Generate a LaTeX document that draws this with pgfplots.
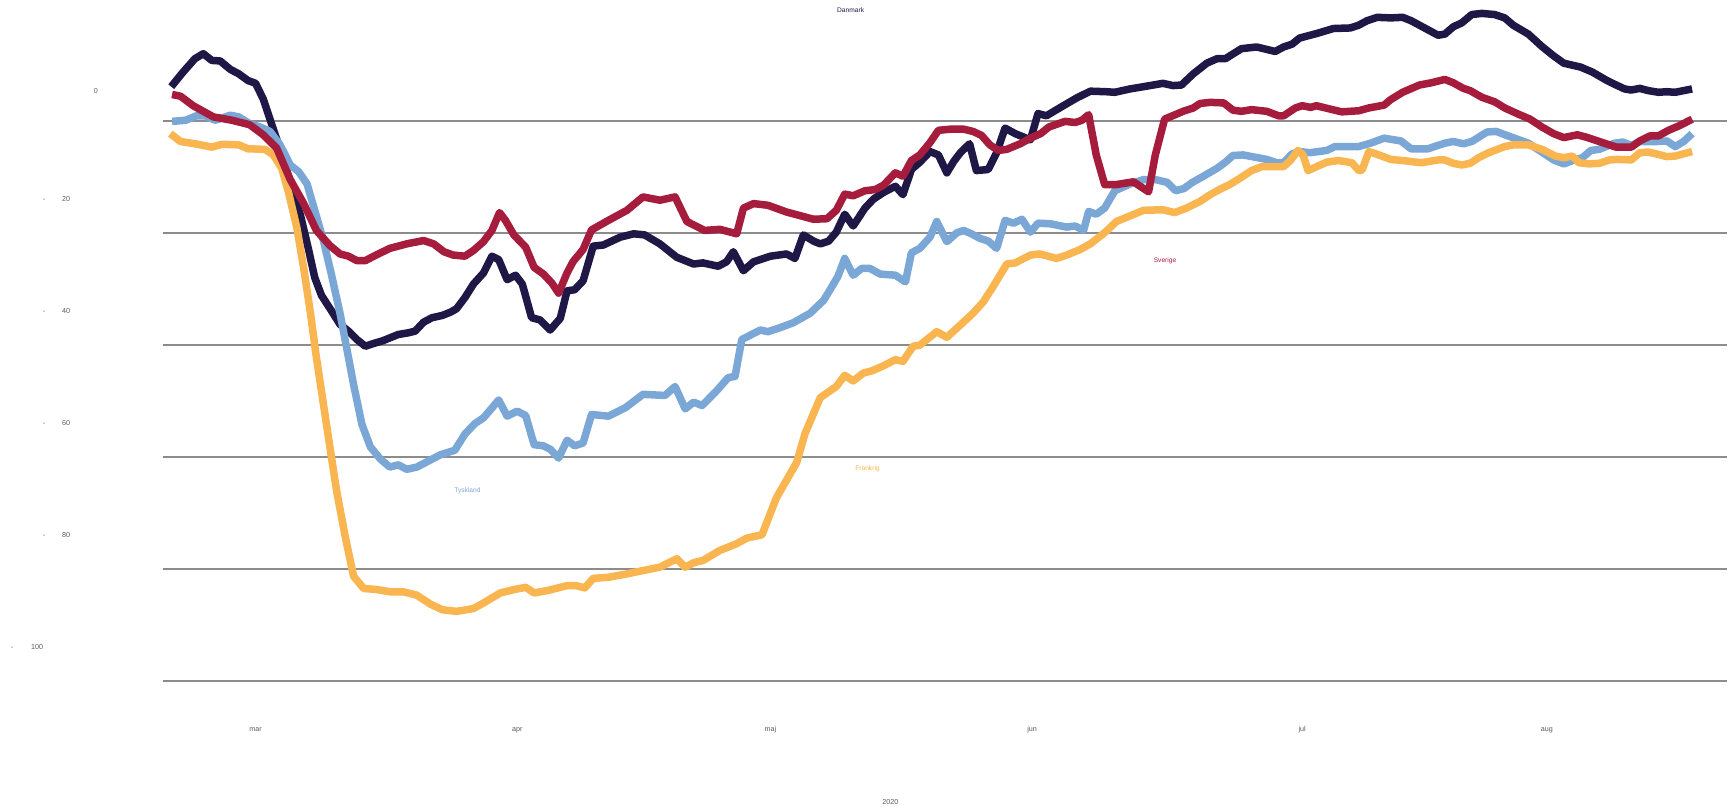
\documentclass[border=0pt]{standalone}
\usepackage{pgfplots}
\pgfplotsset{compat=1.18}
\usepackage{fontspec}
\setmainfont{Liberation Sans}
\definecolor{dk}{RGB}{31,24,70}
\definecolor{se}{RGB}{166,28,60}
\definecolor{de}{RGB}{123,167,215}
\definecolor{fr}{RGB}{249,181,80}
\definecolor{gridgray}{RGB}{140,140,140}
\definecolor{labgray}{RGB}{90,90,90}
\begin{document}
\begin{tikzpicture}
\useasboundingbox (-148pt,-118pt) rectangle (1420pt,617pt);
\begin{axis}[
    at={(0pt,0pt)}, anchor=south west,
    scale only axis, width=1417pt, height=617pt,
    xmin=-10.94, xmax=174.3, ymin=-100, ymax=21.7,
    clip=false,
    axis line style={draw=none},
    major tick length=0pt,
    xtick={0,31,61,92,124,153},
    xticklabels={mar,apr,maj,jun,jul,aug},
    xticklabel style={anchor=center, inner sep=0pt, yshift=-44.6pt,
        font=\fontsize{6.5}{7}\selectfont, text=labgray},
    ytick={-100,-80,...,0},
    yticklabels={
        {-\hspace{15.8pt}100},
        {\hspace{29pt}-\hspace{15pt}80},
        {\hspace{29pt}-\hspace{15pt}60},
        {\hspace{29pt}-\hspace{15pt}40},
        {\hspace{29pt}-\hspace{15pt}20},
        {\hspace{74.9pt}\raisebox{-3pt}{0}}},
    yticklabel style={anchor=base west, inner sep=0pt, xshift=-138pt, yshift=28.7pt,
        font=\fontsize{6.5}{7}\selectfont, text=labgray},
    ymajorgrids,
    grid style={gridgray, line width=1.6pt},
    every axis plot/.append style={line width=6.8pt, line join=round},
]
% Danmark
\addplot[dk] coordinates {(-10,6.2) (-8.6,8.8) (-7.2,11.2) (-6.2,12.1) (-5.2,10.9) (-4.2,10.8) (-3,9.3) (-2,8.5) (-0.9,7.3) (0,6.8) (0.9,4.0) (1.7,0.4) (2.5,-3.2) (3.3,-6.8) (4.3,-12) (5.3,-16.7) (6.3,-23.1) (7,-27.9) (7.8,-31.1) (9,-33.9) (10,-36.3) (11,-37.5) (12,-39) (13,-40.2) (14,-39.7) (15.1,-39.2) (16.9,-38.1) (18.1,-37.8) (18.9,-37.5) (19.9,-35.9) (20.9,-35.1) (22.1,-34.7) (23.1,-34.1) (23.8,-33.5) (24.8,-31.5) (25.8,-29.1) (27,-27.1) (28,-24.1) (28.8,-24.7) (29.8,-28.3) (30.8,-27.5) (31.6,-29.1) (32.7,-35.1) (33.7,-35.5) (34.9,-37.3) (36.1,-35.2) (36.9,-30.3) (37.8,-30.1) (38.8,-28.5) (40,-22.3) (41.2,-22.1) (43.2,-20.7) (44.8,-20.1) (46.1,-20.3) (47.9,-21.9) (49.9,-24.3) (51.9,-25.5) (53,-25.3) (54.8,-25.9) (55.8,-25.1) (56.6,-23.3) (57.8,-26.7) (59,-25.1) (61,-24.1) (62.9,-23.7) (63.9,-24.5) (64.9,-20.3) (66.1,-21.4) (66.9,-21.9) (67.9,-21.4) (68.8,-19.8) (69.8,-16.6) (70.8,-18.7) (72.2,-15.5) (73.2,-13.9) (74.4,-12.7) (75.8,-11.6) (76.7,-13.1) (77.7,-8.6) (78.7,-7.3) (79.9,-5.4) (80.9,-6.0) (81.9,-9.2) (82.7,-7.2) (83.5,-5.6) (84.6,-4.0) (85.4,-8.8) (86.8,-8.6) (87.8,-5.6) (88.8,-1.2) (90,-2.2) (91.8,-3.3) (92.7,1.4) (93.7,1.0) (95.7,2.8) (97.3,4.2) (98.9,5.4) (100.8,5.3) (101.8,5.2) (103.6,5.8) (105.2,6.2) (107.5,6.8) (108.7,6.4) (109.7,6.5) (111.1,8.5) (112.7,10.4) (113.9,11.2) (114.9,11.2) (116.8,13.0) (118.6,13.3) (120.8,12.5) (121.8,13.3) (122.8,13.8) (123.7,14.9) (125.7,15.7) (127.7,16.6) (129.7,16.7) (130.7,17.2) (131.7,18.0) (132.9,18.6) (134.5,18.5) (135.9,18.6) (136.9,18.0) (138.5,16.7) (140.1,15.4) (140.9,15.6) (141.9,16.9) (142.9,17.6) (144.1,19.1) (145.3,19.3) (146.8,19.1) (148,18.5) (149,17.2) (150.8,15.6) (152.4,13.4) (153.8,11.7) (155,10.4) (157,9.7) (158.4,8.8) (160,7.4) (161.2,6.5) (162.2,5.8) (163,5.6) (164,5.9) (165,5.5) (166.2,5.2) (167.2,5.3) (168.2,5.2) (170.2,5.8)};
% Tyskland
\addplot[de] coordinates {(-9.9,0) (-8.3,0.2) (-7,1.0) (-6,1.0) (-4.8,0.2) (-3,1.1) (-2,0.8) (-0.7,-0.4) (0.5,-1.0) (1.7,-1.8) (2.9,-4.2) (4.1,-7.8) (5.1,-9.0) (6.1,-11.2) (7,-15.9) (8,-21.1) (9,-27.5) (10,-34.3) (10.8,-40.6) (11.6,-47) (12.6,-54.2) (13.6,-58.2) (14.8,-60.4) (15.9,-61.8) (16.9,-61.4) (17.9,-62.2) (19.1,-61.8) (20.5,-60.7) (21.9,-59.6) (23.6,-58.8) (24.8,-55.9) (26,-54.0) (27,-53) (27.8,-51.6) (28.8,-49.8) (29.8,-52.7) (31,-51.8) (32,-52.6) (33,-57.8) (34.1,-58.0) (34.9,-58.6) (35.9,-60.2) (36.9,-57.0) (37.8,-58.0) (38.8,-57.5) (39.8,-52.4) (41.8,-52.7) (43.8,-51.2) (45.9,-48.8) (48.5,-49.0) (49.7,-47.4) (50.9,-51.4) (51.9,-50.2) (52.9,-50.8) (54.6,-48.2) (56,-45.8) (56.8,-45.6) (57.6,-39.0) (59.8,-37.3) (60.7,-37.6) (62.1,-36.9) (63.7,-36.0) (65.7,-34.3) (67.3,-32.0) (68.3,-29.5) (69,-27.7) (69.8,-24.5) (70.8,-27.5) (71.8,-26.3) (72.8,-26.3) (74,-27.3) (75.8,-27.5) (77,-28.7) (77.7,-23.5) (78.7,-22.7) (79.9,-20.7) (80.7,-17.9) (81.9,-21.5) (83.1,-19.9) (83.9,-19.5) (84.8,-20.1) (85.8,-20.9) (86.8,-21.4) (87.8,-22.7) (88.8,-17.7) (89.8,-18.2) (90.8,-17.5) (91.8,-19.8) (92.7,-18.2) (94.1,-18.3) (96.1,-18.9) (97.1,-18.7) (98.1,-19.5) (98.7,-16.1) (99.6,-16.6) (100.6,-15.5) (101.8,-12.4) (103.6,-11.2) (105.2,-10.4) (106.6,-10.4) (108,-10.9) (109,-12.4) (110,-12.0) (110.9,-11.0) (112.3,-9.8) (113.9,-8.4) (114.9,-7.3) (115.8,-6.1) (117,-6.0) (119.8,-6.8) (121,-7.4) (121.8,-7.4) (122.8,-5.8) (123.7,-5.4) (124.9,-5.6) (126.9,-5.2) (127.9,-4.5) (130.7,-4.5) (132.1,-3.9) (133.7,-3.0) (135.7,-3.5) (136.9,-4.9) (138.9,-4.9) (140.9,-3.9) (141.9,-3.6) (143.1,-4.0) (144.1,-3.6) (145.9,-1.9) (147,-1.8) (148.4,-2.6) (150.8,-3.9) (152.4,-5.5) (153.8,-6.9) (155,-7.6) (156.4,-6.8) (157.2,-6.5) (158.2,-5.2) (159.2,-5.0) (161,-3.9) (162,-3.7) (163,-4.3) (164,-3.6) (166,-3.6) (167.2,-3.5) (168.2,-4.5) (169.2,-3.6) (170.2,-2.2)};
% Frankrig
\addplot[fr] coordinates {(-10.1,-2.2) (-8.9,-3.6) (-7.2,-4.0) (-5.2,-4.6) (-4,-4.1) (-2,-4.2) (-0.9,-4.9) (1.1,-5.0) (2.1,-6.0) (3.1,-8.4) (3.9,-12.7) (4.9,-19.1) (5.7,-26.3) (6.5,-34.3) (7.2,-42.2) (8,-50.2) (8.8,-58.2) (9.6,-66.1) (10.6,-74.1) (11.6,-81.3) (12.8,-83.5) (14.4,-83.7) (15.9,-84.1) (17.5,-84.1) (19.1,-84.7) (20.7,-86.3) (22.1,-87.3) (23.8,-87.6) (25.8,-87.1) (27,-86.1) (29,-84.3) (30.6,-83.7) (32,-83.3) (33,-84.3) (34.5,-83.9) (36.9,-83.0) (38,-83.0) (39,-83.4) (40,-81.7) (41.8,-81.5) (44,-80.9) (45.9,-80.3) (47.9,-79.7) (49.9,-78.2) (50.9,-79.7) (51.9,-78.9) (53,-78.5) (55,-76.7) (57,-75.5) (58.2,-74.5) (60,-73.9) (61.7,-67.3) (64.1,-61.0) (65.1,-55.8) (66.9,-49.4) (68.8,-47.4) (69.8,-45.4) (70.8,-46.4) (72,-45.0) (73,-44.6) (74.4,-43.7) (75.8,-42.6) (76.7,-42.9) (77.9,-40.2) (78.7,-40.0) (80.7,-37.6) (81.9,-38.6) (83.5,-36.4) (85,-34.3) (86.2,-32.3) (87.4,-29.5) (89,-25.5) (90,-25.3) (91.8,-23.9) (92.9,-23.7) (94.9,-24.5) (96.1,-23.9) (97.7,-22.9) (98.9,-21.9) (100.6,-19.9) (102,-17.9) (103.6,-16.9) (105.2,-15.9) (107.5,-15.8) (108.9,-16.3) (110.3,-15.5) (111.9,-14.3) (113.1,-13.1) (114.3,-12.1) (115.4,-11.3) (116.6,-10.2) (118,-8.8) (119.2,-8.1) (121.8,-8.1) (122.6,-7.0) (123.5,-5.2) (124.1,-6.0) (124.7,-8.8) (125.7,-8.1) (126.9,-7.3) (128.3,-7.0) (129.9,-7.4) (130.7,-8.8) (131.1,-8.7) (131.9,-5.4) (132.9,-5.9) (134.5,-6.8) (136.5,-7.1) (138.1,-7.4) (140.1,-6.9) (140.9,-6.9) (141.9,-7.5) (142.9,-7.8) (143.9,-7.5) (144.9,-6.5) (146.1,-5.6) (148,-4.5) (149,-4.2) (150.8,-4.2) (152.4,-5.0) (154,-6.2) (155,-6.5) (156,-6.2) (156.8,-7.4) (158,-7.6) (159.2,-7.5) (160.4,-6.9) (161.4,-6.8) (163,-6.9) (164,-5.6) (165,-5.5) (166.2,-5.9) (167.2,-6.3) (168.2,-6.2) (170.2,-5.4)};
% Sverige
\addplot[se] coordinates {(-9.9,4.8) (-8.9,4.5) (-7.4,2.8) (-5,0.8) (-2.8,0.2) (-0.7,-0.6) (0.9,-2.4) (2.5,-4.8) (4.1,-10.4) (5.7,-14.7) (7.2,-19.5) (8.8,-22.2) (10,-23.7) (11,-24.1) (12,-24.9) (13,-24.9) (14,-24.1) (15.9,-22.7) (17.9,-21.9) (19.9,-21.3) (21.1,-21.9) (22.3,-23.3) (23.4,-23.9) (24.8,-24.1) (25.8,-23.1) (27,-21.5) (28,-19.5) (28.9,-16.3) (29.6,-17.7) (30.6,-20.3) (32,-22.5) (33,-26.1) (34.1,-27.3) (35.1,-28.9) (35.9,-30.7) (36.9,-27.1) (37.6,-25.1) (38.8,-22.9) (39.8,-19.4) (41.8,-17.7) (44,-15.9) (45.9,-13.5) (47.9,-14.1) (49.7,-13.5) (51.1,-17.9) (53.2,-19.5) (55,-19.3) (57,-20.1) (57.8,-15.5) (59,-14.7) (60.7,-15.0) (62.9,-16.2) (66.1,-17.5) (67.7,-17.4) (68.8,-15.9) (69.8,-13.0) (70.8,-13.3) (72.2,-12.4) (73.4,-12.2) (74.4,-11.4) (75.8,-9.2) (76.7,-9.8) (77.7,-7.0) (78.7,-6.0) (79.9,-3.8) (80.9,-1.6) (82.3,-1.4) (83.9,-1.4) (85,-1.8) (86,-2.5) (87,-4.2) (88,-5.2) (89,-5.0) (90.6,-4.0) (91.8,-3.0) (93,-2.2) (94,-1.0) (95.9,0) (97.1,-0.2) (97.9,0.2) (98.7,1.2) (99.6,-6.0) (100.6,-11.3) (102,-11.3) (104,-10.8) (104.8,-11.6) (105.8,-12.6) (106.6,-6.0) (107.7,0.4) (109.9,1.8) (111.1,2.4) (111.9,3.2) (113.1,3.4) (114.7,3.3) (115.8,2.0) (116.8,1.8) (118,2.1) (119.8,1.8) (121.2,1.0) (121.8,1.0) (123.2,2.4) (124,2.8) (125,2.5) (125.7,2.8) (127.3,2.2) (128.7,1.7) (130.7,1.9) (131.9,2.4) (133.7,2.9) (134.5,3.9) (135.9,5.2) (137.9,6.5) (139.3,6.9) (140.9,7.5) (141.9,6.9) (143.1,5.9) (143.9,5.5) (145.3,4.3) (146.8,3.5) (148,2.4) (149.6,1.3) (151,0.4) (152.4,-1.0) (153.8,-2.2) (155,-2.9) (156.6,-2.4) (157.6,-2.8) (159.2,-3.6) (161.2,-4.6) (163,-4.6) (164,-3.5) (165.2,-2.6) (166.2,-2.6) (167.4,-1.6) (168.8,-0.7) (170.2,0.4)};
\node[font=\fontsize{6}{7}\selectfont, text=dk] at (axis cs:70.5,19.9) {Danmark};
\node[font=\fontsize{6}{7}\selectfont, text=se] at (axis cs:107.75,-25.0) {Sverige};
\node[font=\fontsize{6}{7}\selectfont, text=de] at (axis cs:25.1,-66.1) {Tyskland};
\node[font=\fontsize{6}{7}\selectfont, text=fr] at (axis cs:72.5,-62.1) {Frankrig};
\node[font=\fontsize{6.5}{7}\selectfont, text=labgray] at (axis cs:75.2,-121.7) {2020};
\end{axis}
\end{tikzpicture}
\end{document}
